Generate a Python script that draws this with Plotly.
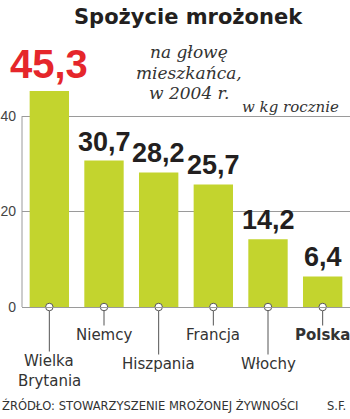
import plotly.graph_objects as go

countries = ["Wielka<br>Brytania", "Niemcy", "Hiszpania", "Francja", "Włochy", "<b>Polska</b>"]
values = [45.3, 30.7, 28.2, 25.7, 14.2, 6.4]
value_labels = ["45,3", "30,7", "28,2", "25,7", "14,2", "6,4"]
y_ticks = [0, 20, 40]
subtitle_lines = ["na głowę", "mieszkańca,", "w 2004 r."]

BAR = "#c3d42e"
GRID = "#9a9a9a"
DARK = "#231f20"
RED = "#e5262b"

x_idx = list(range(len(countries)))

W, H = 350, 419
ml, mr, mt, mb = 22, 0, 78, 112
pw, ph = W - ml - mr, H - mt - mb


def px(x):
    return (x - ml) / pw


def py(y):
    return (H - mb - y) / ph


fig = go.Figure()
fig.add_trace(go.Bar(x=x_idx, y=values, marker=dict(color=BAR, line=dict(width=0)),
                     width=0.72, hoverinfo="skip"))
fig.add_trace(go.Scatter(x=x_idx, y=[0] * len(x_idx), mode="markers",
                         marker=dict(symbol="circle", size=7.5, color="white",
                                     line=dict(color="#555", width=1)),
                         cliponaxis=False, hoverinfo="skip"))

shapes = [dict(type="line", xref="paper", x0=0, x1=0, yref="y", y0=0, y1=max(y_ticks),
               line=dict(color=GRID, width=1), layer="below")]
label_font = dict(family="DejaVu Sans", size=15, color="#333")
annotations = []
for i, (v, lab, name) in enumerate(zip(values, value_labels, countries)):
    if i == 0:
        annotations.append(dict(x=i, y=v, xref="x", yref="y", text=lab, showarrow=False,
                                yanchor="bottom", yshift=3,
                                font=dict(family="Liberation Sans", size=40, color=RED, weight="bold")))
    else:
        annotations.append(dict(x=i, y=v, xref="x", yref="y", text=lab, showarrow=False,
                                yanchor="bottom", yshift=2,
                                font=dict(family="Liberation Sans", size=27, color=DARK, weight="bold")))
    parts = name.split("<br>")
    if i % 2 == 1:
        ay = 28
    elif len(parts) > 1:
        ay = 54
    else:
        ay = 57
    annotations.append(dict(x=i, y=0, xref="x", yref="y", text=parts[0],
                            showarrow=True, arrowhead=0, arrowwidth=1, arrowcolor="#555",
                            ax=0, ay=ay, standoff=4, startstandoff=0,
                            font=label_font, align="center", borderpad=0))
    for k, extra in enumerate(parts[1:], start=1):
        annotations.append(dict(x=i, y=0, xref="x", yref="y", text=extra, showarrow=False,
                                yanchor="middle", yshift=-(ay + 20 * k),
                                font=label_font, align="center", borderpad=0))

for k, line in enumerate(subtitle_lines):
    annotations.append(dict(x=px(189), y=py(40 + k * 20.5), xref="paper", yref="paper",
                            text="<i>" + line + "</i>", showarrow=False,
                            xanchor="center", yanchor="top",
                            font=dict(family="DejaVu Serif", size=17, color="#333")))

annotations += [
    dict(x=px(188), y=py(3), xref="paper", yref="paper", text="<b>Spożycie mrożonek</b>",
         showarrow=False, xanchor="center", yanchor="top",
         font=dict(family="DejaVu Sans", size=21, color=DARK)),
    dict(x=px(341), y=py(96), xref="paper", yref="paper", text="<i>w kg rocznie</i>",
         showarrow=False, xanchor="right", yanchor="top",
         font=dict(family="DejaVu Serif", size=15, color="#333")),
    dict(x=px(0), y=py(396), xref="paper", yref="paper",
         text="ŹRÓDŁO: STOWARZYSZENIE MROŻONEJ ŻYWNOŚCI",
         showarrow=False, xanchor="left", yanchor="top",
         font=dict(family="DejaVu Sans Condensed", size=12.8, color="#333")),
    dict(x=px(348), y=py(396), xref="paper", yref="paper", text="S.F.",
         showarrow=False, xanchor="right", yanchor="top",
         font=dict(family="DejaVu Sans Condensed", size=12.8, color="#333")),
]

fig.update_layout(
    width=W, height=H, margin=dict(l=ml, r=mr, t=mt, b=mb),
    paper_bgcolor="white", plot_bgcolor="white", showlegend=False, bargap=0.28,
    shapes=shapes, annotations=annotations,
    xaxis=dict(range=[-0.5, 5.5], showticklabels=False, showgrid=False, zeroline=False,
               showline=True, linecolor=GRID, linewidth=1, ticks="", fixedrange=True),
    yaxis=dict(range=[0, 48], tickvals=y_ticks, ticktext=[str(t) for t in y_ticks],
               showgrid=True, gridcolor=GRID, gridwidth=1, zeroline=False, showline=False,
               ticks="", ticklabelstandoff=5,
               tickfont=dict(family="Liberation Sans", size=14, color="#444")),
)

fig.write_html("out.html")
